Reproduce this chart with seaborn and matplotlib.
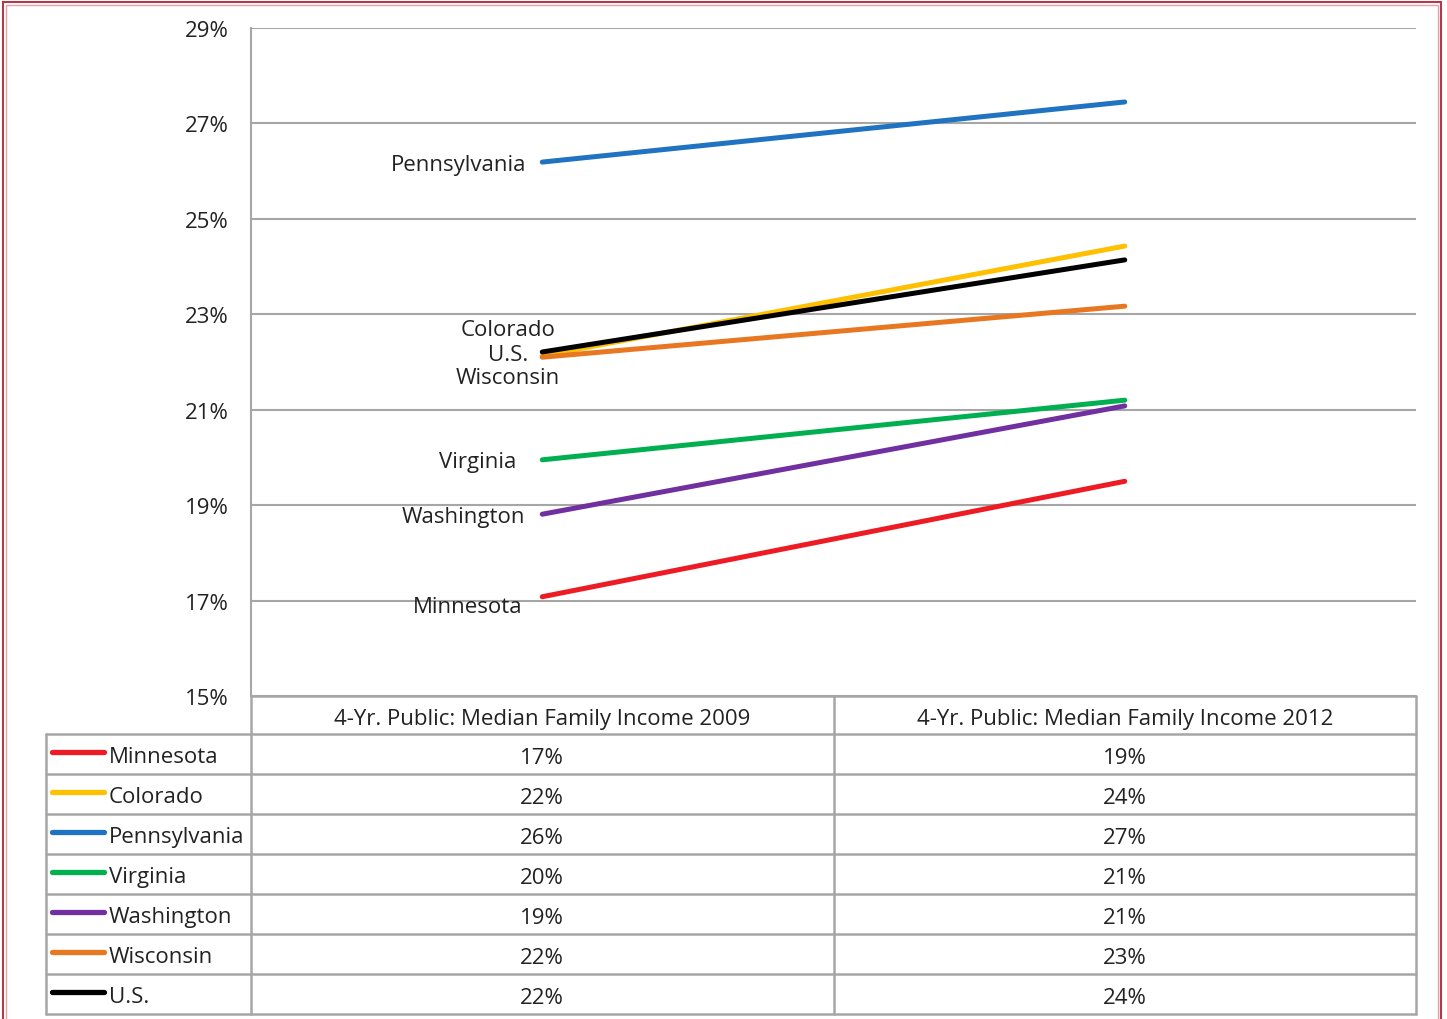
import matplotlib
matplotlib.use("Agg")
import matplotlib.pyplot as plt
import seaborn as sns
import pandas as pd
from matplotlib.patches import Rectangle

# --- data ---
states = ["Minnesota", "Colorado", "Pennsylvania", "Virginia", "Washington", "Wisconsin", "U.S."]
years = ["4-Yr. Public: Median Family Income 2009", "4-Yr. Public: Median Family Income 2012"]
share_2009 = [17.08, 22.13, 26.19, 19.95, 18.81, 22.10, 22.21]
share_2012 = [19.50, 24.43, 27.45, 21.20, 21.08, 23.17, 24.14]
table_2009 = ["17%", "22%", "26%", "20%", "19%", "22%", "22%"]
table_2012 = ["19%", "24%", "27%", "21%", "21%", "23%", "24%"]
yticks = [15, 17, 19, 21, 23, 25, 27, 29]

colors = {"Minnesota": "#ED1C24", "Colorado": "#FFC000", "Pennsylvania": "#1F73C1",
          "Virginia": "#00B050", "Washington": "#7030A0", "Wisconsin": "#E87722",
          "U.S.": "#000000"}

# label offsets (pixels from the 2009 point), ha
label_pos = {
    "Pennsylvania": (-16, -2, "right"),
    "Virginia": (-26, -2, "right"),
    "Washington": (-17, -2, "right"),
    "Minnesota": (-20, -10, "right"),
}

df = pd.DataFrame({
    "state": states * 2,
    "year": [years[0]] * len(states) + [years[1]] * len(states),
    "share": share_2009 + share_2012,
})
df["x"] = df["year"].map({years[0]: 0, years[1]: 1})

sns.set_theme(style="white")
plt.rcParams["font.family"] = ["Open Sans", "DejaVu Sans"]
FS = 16
TXT = "#222222"

W, H = 1447, 1020
fig = plt.figure(figsize=(W / 100, H / 100), dpi=100)
grid_c = "#A6A6A6"

ax = fig.add_axes([251 / W, 1 - 697 / H, (1416 - 251) / W, (697 - 29) / H])
sns.lineplot(data=df, x="x", y="share", hue="state", hue_order=states,
             palette=colors, linewidth=3.6, legend=False, ax=ax)
ax.set_xlim(-0.5, 1.5)
ax.set_ylim(15, 29)
ax.set_yticks(yticks)
ax.set_yticklabels([f"{t}%" for t in yticks], fontsize=FS, color=TXT)
ax.set_xticks([])
ax.set_xlabel("")
ax.set_ylabel("")
ax.tick_params(axis="y", length=0, pad=16)
ax.yaxis.grid(True, color=grid_c, linewidth=1.5)
for s in ["top", "right", "bottom"]:
    ax.spines[s].set_visible(False)
ax.spines["left"].set_color(grid_c)
ax.spines["left"].set_linewidth(1.5)

# labels at the 2009 end
for st, (dx, dy, ha) in label_pos.items():
    y0 = share_2009[states.index(st)]
    ax.annotate(st, (0, y0), xytext=(dx, dy), textcoords="offset pixels",
                ha=ha, va="center", fontsize=FS, color=TXT)
us0 = share_2009[states.index("U.S.")]
for name, dy in [("Colorado", 22), ("U.S.", -3), ("Wisconsin", -26)]:
    ax.annotate(name, (0, us0), xytext=(-34, dy), textcoords="offset pixels",
                ha="center", va="center", fontsize=FS, color=TXT)

# --- table below ---
tax = fig.add_axes([251 / W, 1 - 1015 / H, (1416 - 251) / W, (1015 - 697) / H], sharex=ax)
tax.set_ylim(7.95, 0)
tax.axis("off")
head_h = 0.95
lab_left = -0.5 - 205 / 582.5
kw = dict(color=grid_c, linewidth=1.8, clip_on=False)

tax.plot([-0.5, 1.5], [0, 0], **kw)
tax.plot([lab_left, 1.5], [head_h, head_h], **kw)
for i in range(len(states)):
    yb = head_h + i + 1
    tax.plot([lab_left, 1.5], [yb, yb], **kw)
tax.plot([-0.5, -0.5], [0, head_h + len(states)], **kw)
tax.plot([0.5, 0.5], [0, head_h + len(states)], **kw)
tax.plot([1.5, 1.5], [0, head_h + len(states)], **kw)
tax.plot([lab_left, lab_left], [head_h, head_h + len(states)], **kw)

for j, yr in enumerate(years):
    tax.text(j, head_h / 2 + 0.1, yr, ha="center", va="center", fontsize=FS, color=TXT)
for i, st in enumerate(states):
    yc = head_h + i + 0.5
    tax.plot([-0.5 - 199 / 582.5, -0.5 - 147 / 582.5], [yc - 0.05, yc - 0.05],
             color=colors[st], linewidth=3.8, solid_capstyle="round", clip_on=False)
    tax.text(-0.5 - 142 / 582.5, yc + 0.07, st, ha="left", va="center", fontsize=FS, color=TXT)
    tax.text(0, yc + 0.1, table_2009[i], ha="center", va="center", fontsize=FS, color=TXT)
    tax.text(1, yc + 0.1, table_2012[i], ha="center", va="center", fontsize=FS, color=TXT)

# red frame around the picture
fig.patches.append(Rectangle((3 / W, -0.02), (1441 - 3) / W, 1 - 3 / H + 0.02,
                             transform=fig.transFigure, fill=False,
                             edgecolor="#B03A48", linewidth=1.5))
fig.patches.append(Rectangle((6 / W, -0.02), (1438 - 6) / W, 1 - 6 / H + 0.02,
                             transform=fig.transFigure, fill=False,
                             edgecolor="#E8A0A8", linewidth=1))

fig.savefig("out.png", dpi=100)
